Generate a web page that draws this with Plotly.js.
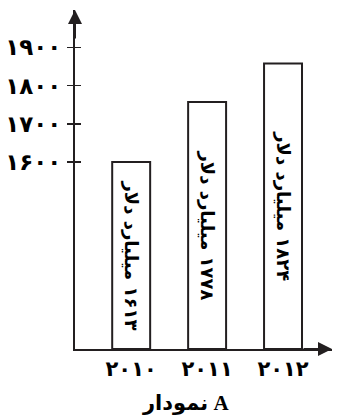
<!DOCTYPE html>
<html>
<head>
<meta charset="utf-8">
<script src="https://cdn.plot.ly/plotly-3.0.1.min.js"></script>
<style>
  html, body { margin: 0; padding: 0; background: #fff; }
  #chart { width: 337px; height: 416px; }
</style>
</head>
<body>
<div id="chart"></div>
<script>
// years on the x axis (persian digits)
const years = ['۲۰۱۰', '۲۰۱۱', '۲۰۱۲'];
// bar heights as drawn against the y axis
const barHeights = [1600, 1757, 1858];
// text written inside each bar
const barLabels = ['۱۶۱۳ میلیارد دلار', '۱۷۷۸ میلیارد دلار', '۱۸۲۴ میلیارد دلار'];
const yTicks = [1600, 1700, 1800, 1900];
const yTickText = ['۱۶۰۰', '۱۷۰۰', '۱۸۰۰', '۱۹۰۰'];
const yMin = 1110;
const yMax = 1998;

const ink = '#231f20';
const fa = 'DejaVu Sans';

// force right-to-left order inside the bars, left-to-right for the caption
const rtl = s => '\u202B' + s + '\u202C';
const ltr = s => '\u202A' + s + '\u202C';

const data = [{
  type: 'bar',
  x: years,
  y: barHeights.map(v => v - yMin),
  base: yMin,
  text: barLabels.map(rtl),
  textposition: 'inside',
  insidetextanchor: 'middle',
  textangle: 90,
  constraintext: 'none',
  insidetextfont: { family: fa, size: 18, color: '#000', weight: 'bold' },
  marker: { color: '#fff', line: { color: ink, width: 2 } },
  hoverinfo: 'none',
}, {
  type: 'scatter',
  x: [], y: [],
  yaxis: 'y2',
  hoverinfo: 'none',
}];

const layout = {
  width: 337,
  height: 416,
  margin: { l: 75, r: 5, t: 10, b: 67 },
  paper_bgcolor: '#fff',
  plot_bgcolor: '#fff',
  showlegend: false,
  bargap: 0.5,
  xaxis: {
    type: 'category',
    range: [-0.74, 2.645],
    showline: true, linecolor: ink, linewidth: 2,
    showgrid: false, zeroline: false,
    ticks: '',
    tickfont: { family: fa, size: 21, color: '#000', weight: 'bold' },
  },
  yaxis: {
    range: [yMin, yMax],
    showline: true, linecolor: ink, linewidth: 2,
    showgrid: false, zeroline: false,
    tickvals: yTicks, ticktext: yTickText,
    ticks: 'outside', ticklen: 6, tickwidth: 1.5, tickcolor: ink,
    ticklabelstandoff: 1,
    tickfont: { family: fa, size: 23, color: '#000', weight: 'bold' },
  },
  yaxis2: {
    overlaying: 'y', side: 'left',
    range: [yMin, yMax],
    showline: false, showgrid: false, zeroline: false,
    tickvals: yTicks, showticklabels: false,
    ticks: 'inside', ticklen: 6, tickwidth: 1.5, tickcolor: ink,
  },
  annotations: [
    // arrow heads at the ends of the axes
    { xref: 'paper', yref: 'paper', x: 0, y: 1, ax: 0, ay: 30,
      showarrow: true, arrowhead: 2, arrowsize: 1.4, arrowwidth: 2, arrowcolor: ink, text: '' },
    { xref: 'paper', yref: 'paper', x: 1, y: 0, ax: -30, ay: 0,
      showarrow: true, arrowhead: 2, arrowsize: 1.4, arrowwidth: 2, arrowcolor: ink, text: '' },
    { xref: 'paper', yref: 'paper', x: 0.43, y: -0.158, yanchor: 'middle',
      showarrow: false, text: ltr('نمودار A'),
      font: { family: 'Liberation Serif, DejaVu Sans', size: 21, color: '#000', weight: 'bold' } },
  ],
};

Plotly.newPlot('chart', data, layout, { displayModeBar: false, staticPlot: true });
</script>
</body>
</html>
